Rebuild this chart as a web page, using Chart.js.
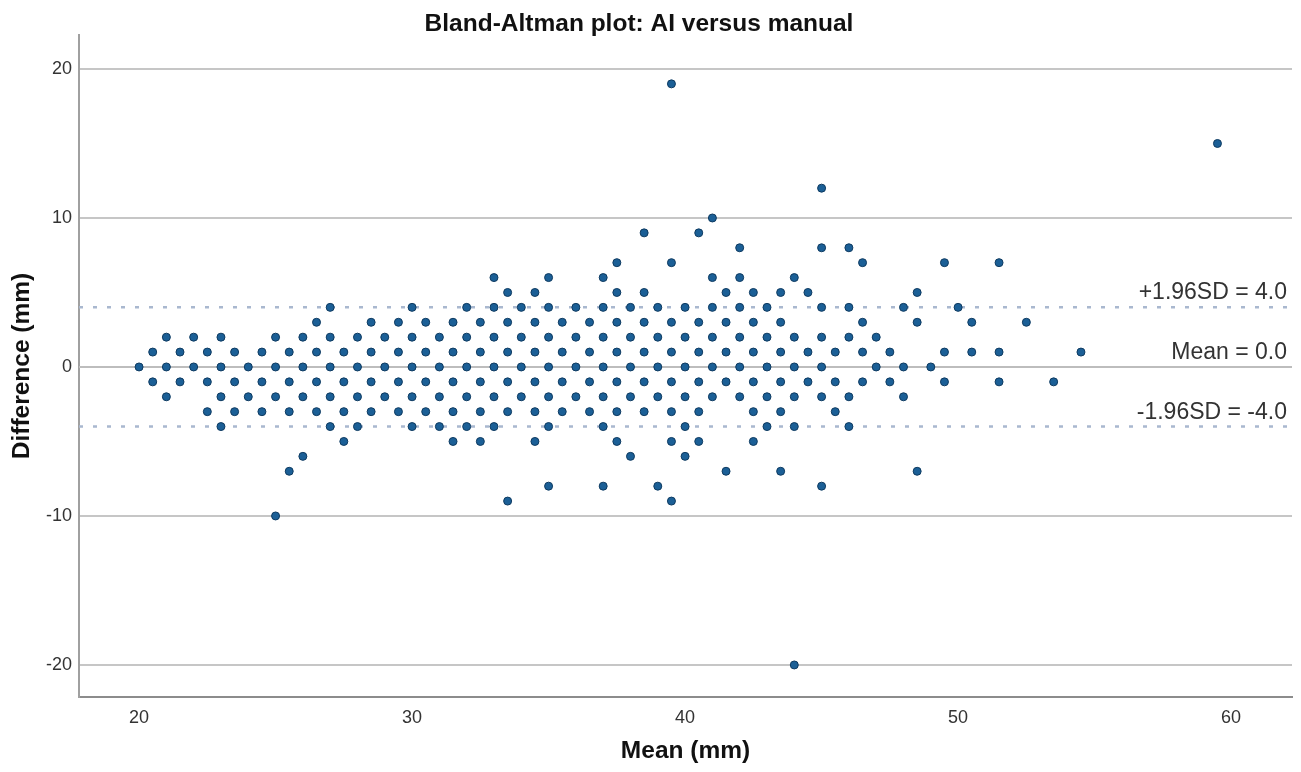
<!DOCTYPE html>
<html>
<head>
<meta charset="utf-8">
<script src="https://cdn.jsdelivr.net/npm/chart.js@4/dist/chart.umd.min.js"></script>
<style>
  html, body { margin: 0; padding: 0; background: #ffffff; }
  #wrap { width: 1301px; height: 772px; position: relative; }
</style>
</head>
<body>
<div id="wrap"><canvas id="c" width="1301" height="772"></canvas></div>
<script>
// ---- text ----
const chartTitle = 'Bland-Altman plot: AI versus manual';
const xAxisTitle = 'Mean (mm)';
const yAxisTitle = 'Difference (mm)';

// ---- tick labels ----
const xTickValues = [20, 30, 40, 50, 60];
const yTickValues = [-20, -10, 0, 10, 20];

// ---- agreement lines ----
const meanDifference = 0.0;
const upperLimit = 4.0;
const lowerLimit = -4.0;
const limitLabels = ['+1.96SD = 4.0', 'Mean = 0.0', '-1.96SD = -4.0'];

// ---- observations: difference level and the means observed at that level ----
const diffLevels = [19, 15, 12, 10, 9, 8, 7, 6, 5, 4, 3, 2, 1, 0, -1, -2, -3, -4, -5, -6, -7, -8, -9, -10, -20];
const means19 = [39.5];
const means15 = [59.5];
const means12 = [45];
const means10 = [41];
const means9 = [38.5, 40.5];
const means8 = [42, 45, 46];
const means7 = [37.5, 39.5, 46.5, 49.5, 51.5];
const means6 = [33, 35, 37, 41, 42, 44];
const means5 = [33.5, 34.5, 37.5, 38.5, 41.5, 42.5, 43.5, 44.5, 48.5];
const means4 = [27, 30, 32, 33, 34, 35, 36, 37, 38, 39, 40, 41, 42, 43, 45, 46, 48, 50];
const means3 = [26.5, 28.5, 29.5, 30.5, 31.5, 32.5, 33.5, 34.5, 35.5, 36.5, 37.5, 38.5, 39.5, 40.5, 41.5, 42.5, 43.5, 46.5, 48.5, 50.5, 52.5];
const means2 = [21, 22, 23, 25, 26, 27, 28, 29, 30, 31, 32, 33, 34, 35, 36, 37, 38, 39, 40, 41, 42, 43, 44, 45, 46, 47];
const means1 = [20.5, 21.5, 22.5, 23.5, 24.5, 25.5, 26.5, 27.5, 28.5, 29.5, 30.5, 31.5, 32.5, 33.5, 34.5, 35.5, 36.5, 37.5, 38.5, 39.5, 40.5, 41.5, 42.5, 43.5, 44.5, 45.5, 46.5, 47.5, 49.5, 50.5, 51.5, 54.5];
const means0 = [20, 21, 22, 23, 24, 25, 26, 27, 28, 29, 30, 31, 32, 33, 34, 35, 36, 37, 38, 39, 40, 41, 42, 43, 44, 45, 47, 48, 49];
const meansM1 = [20.5, 21.5, 22.5, 23.5, 24.5, 25.5, 26.5, 27.5, 28.5, 29.5, 30.5, 31.5, 32.5, 33.5, 34.5, 35.5, 36.5, 37.5, 38.5, 39.5, 40.5, 41.5, 42.5, 43.5, 44.5, 45.5, 46.5, 47.5, 49.5, 51.5, 53.5];
const meansM2 = [21, 23, 24, 25, 26, 27, 28, 29, 30, 31, 32, 33, 34, 35, 36, 37, 38, 39, 40, 41, 42, 43, 44, 45, 46, 48];
const meansM3 = [22.5, 23.5, 24.5, 25.5, 26.5, 27.5, 28.5, 29.5, 30.5, 31.5, 32.5, 33.5, 34.5, 35.5, 36.5, 37.5, 38.5, 39.5, 40.5, 42.5, 43.5, 45.5];
const meansM4 = [23, 27, 28, 30, 31, 32, 33, 35, 37, 40, 43, 44, 46];
const meansM5 = [27.5, 31.5, 32.5, 34.5, 37.5, 39.5, 40.5, 42.5];
const meansM6 = [26, 38, 40];
const meansM7 = [25.5, 41.5, 43.5, 48.5];
const meansM8 = [35, 37, 39, 45];
const meansM9 = [33.5, 39.5];
const meansM10 = [25];
const meansM20 = [44];
const meansByLevel = [means19, means15, means12, means10, means9, means8, means7, means6, means5, means4,
  means3, means2, means1, means0, meansM1, meansM2, meansM3, meansM4, meansM5, meansM6, meansM7,
  meansM8, meansM9, meansM10, meansM20];

// ---- axis ranges ----
const xMin = 17.8, xMax = 62.23;
const yMin = -22.15, yMax = 22.28;

const points = [];
diffLevels.forEach((d, i) => {
  meansByLevel[i].forEach(m => points.push({ x: m, y: d }));
});

const FONT = '"Liberation Sans", Arial, sans-serif';

const annotationPlugin = {
  id: 'annotations',
  afterDatasetsDraw(chart) {
    const { ctx, chartArea, scales } = chart;
    const y = scales.y;
    const vals = [upperLimit, meanDifference, lowerLimit];
    ctx.save();
    ctx.font = '23px ' + FONT;
    ctx.fillStyle = '#333333';
    ctx.textAlign = 'right';
    ctx.textBaseline = 'alphabetic';
    vals.forEach((v, i) => {
      ctx.fillText(limitLabels[i], chartArea.right - 5, y.getPixelForValue(v) - 8);
    });
    ctx.restore();
  },
  afterDraw(chart) {
    const { ctx } = chart;
    ctx.save();
    ctx.font = 'bold 24.5px ' + FONT;
    ctx.fillStyle = '#111111';
    ctx.textAlign = 'center';
    ctx.textBaseline = 'alphabetic';
    ctx.fillText(chartTitle, 639, 31);
    ctx.restore();
  }
};

new Chart(document.getElementById('c'), {
  data: {
    datasets: [
      {
        type: 'scatter',
        data: points,
        pointRadius: 4,
        pointHoverRadius: 4,
        backgroundColor: '#1b5f96',
        borderColor: '#0e3a60',
        borderWidth: 1,
        order: 0
      },
      {
        type: 'line',
        data: [{ x: xMin, y: upperLimit }, { x: xMax, y: upperLimit }],
        borderColor: '#a9b8cf',
        borderWidth: 2.5,
        borderDash: [4, 10],
        pointRadius: 0,
        order: 2
      },
      {
        type: 'line',
        data: [{ x: xMin, y: meanDifference }, { x: xMax, y: meanDifference }],
        borderColor: '#bdbdbd',
        borderWidth: 2,
        pointRadius: 0,
        order: 3
      },
      {
        type: 'line',
        data: [{ x: xMin, y: lowerLimit }, { x: xMax, y: lowerLimit }],
        borderColor: '#a9b8cf',
        borderWidth: 2.5,
        borderDash: [4, 10],
        pointRadius: 0,
        order: 2
      }
    ]
  },
  options: {
    responsive: false,
    animation: false,
    devicePixelRatio: 1,
    layout: { padding: { top: 35, right: 9, bottom: 0, left: 0 } },
    plugins: {
      legend: { display: false },
      title: { display: false },
      tooltip: { enabled: false }
    },
    scales: {
      x: {
        type: 'linear',
        position: 'bottom',
        min: xMin,
        max: xMax,
        afterBuildTicks: (scale) => { scale.ticks = xTickValues.map(v => ({ value: v })); },
        afterFit: (scale) => { scale.height = 75; },
        grid: { display: false, drawTicks: false },
        border: { display: true, color: '#8c8c8c', width: 2 },
        ticks: {
          padding: 10,
          color: '#333333',
          font: { family: FONT, size: 18 },
          maxRotation: 0,
          autoSkip: false
        },
        title: {
          display: true,
          text: xAxisTitle,
          color: '#111111',
          font: { family: FONT, size: 24.5, weight: 'bold' },
          padding: { top: 0, bottom: 6 }
        }
      },
      y: {
        type: 'linear',
        position: 'left',
        min: yMin,
        max: yMax,
        afterBuildTicks: (scale) => { scale.ticks = yTickValues.map(v => ({ value: v })); },
        afterFit: (scale) => { scale.width = 79; },
        grid: { display: true, drawTicks: false, color: '#c6c6c6', lineWidth: 2 },
        border: { display: true, color: '#a0a0a0', width: 2 },
        ticks: {
          padding: 7,
          color: '#333333',
          font: { family: FONT, size: 18 },
          autoSkip: false
        },
        title: {
          display: true,
          text: yAxisTitle,
          color: '#111111',
          font: { family: FONT, size: 24.5, weight: 'bold' },
          padding: { top: 8, bottom: 0 }
        }
      }
    }
  },
  plugins: [annotationPlugin]
});
</script>
</body>
</html>
